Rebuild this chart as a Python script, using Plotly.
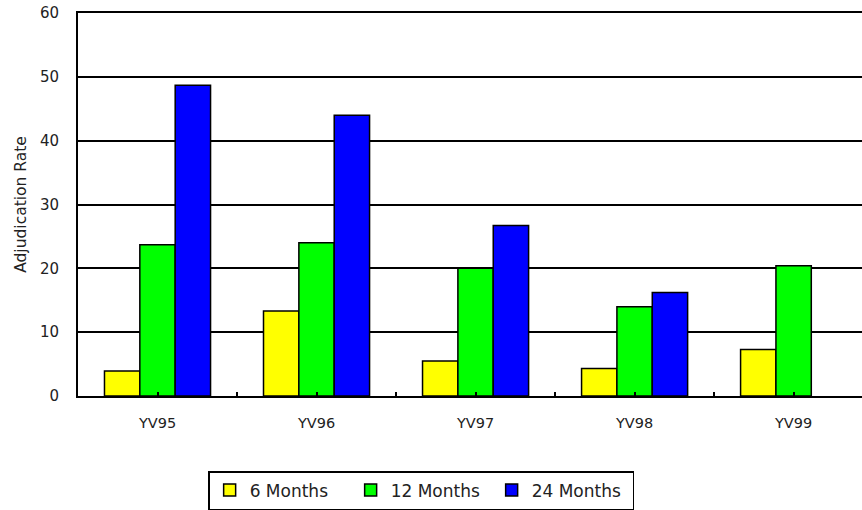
import plotly.graph_objects as go

# Data
years = ["YV95", "YV96", "YV97", "YV98", "YV99"]
six_months = [3.9, 13.3, 5.5, 4.3, 7.3]
twelve_months = [23.7, 24.0, 20.0, 14.0, 20.4]
twentyfour_months = [48.7, 44.0, 26.7, 16.2, None]

series = [
    ("6 Months", six_months, "#FFFF00"),
    ("12 Months", twelve_months, "#00FF00"),
    ("24 Months", twentyfour_months, "#0000FF"),
]

fig = go.Figure()
for name, vals, col in series:
    fig.add_trace(go.Bar(
        x=years, y=vals, name=name,
        marker=dict(color=col, line=dict(color="black", width=1.5)),
    ))

# invisible trace carrying the between-category tick marks
fig.add_trace(go.Scatter(x=years, y=[None] * len(years), xaxis="x2",
                         showlegend=False, hoverinfo="skip"))

font = "DejaVu Sans"
xrange = [-0.5, 4.43]

fig.update_layout(
    width=862, height=510,
    margin=dict(l=78, r=0, t=13, b=113),
    paper_bgcolor="white", plot_bgcolor="white",
    barmode="group", bargap=0.333, bargroupgap=0,
    font=dict(family=font, color="#222222", size=14),
    xaxis=dict(
        type="category", range=xrange, automargin=False,
        showline=True, linecolor="black", linewidth=2, mirror=True,
        ticks="inside", ticklen=4, tickcolor="black", tickwidth=1.5,
        tickfont=dict(size=14.5), ticklabelstandoff=13,
        showgrid=False,
    ),
    xaxis2=dict(
        type="category", range=xrange, overlaying="x", side="bottom",
        categoryorder="array", categoryarray=years,
        tickson="boundaries", ticks="inside", ticklen=4,
        tickcolor="black", tickwidth=1.5,
        showticklabels=False, showgrid=False, showline=False,
    ),
    yaxis=dict(
        range=[0, 60], dtick=10, automargin=False,
        showline=True, linecolor="black", linewidth=2,
        showgrid=True, gridcolor="black", gridwidth=1.5,
        ticks="", tickfont=dict(size=15), ticklabelstandoff=14,
        title=dict(text="Adjudication Rate", font=dict(size=15.5), standoff=9),
        zeroline=False,
    ),
    legend=dict(
        orientation="h", x=0.166, xanchor="left", y=-0.195, yanchor="top",
        bordercolor="black", borderwidth=1.5, entrywidth=96,
        font=dict(size=17), bgcolor="white",
    ),
)

fig.write_html("out.html", config={"displayModeBar": False},
               post_script="document.body.style.margin='0';")
